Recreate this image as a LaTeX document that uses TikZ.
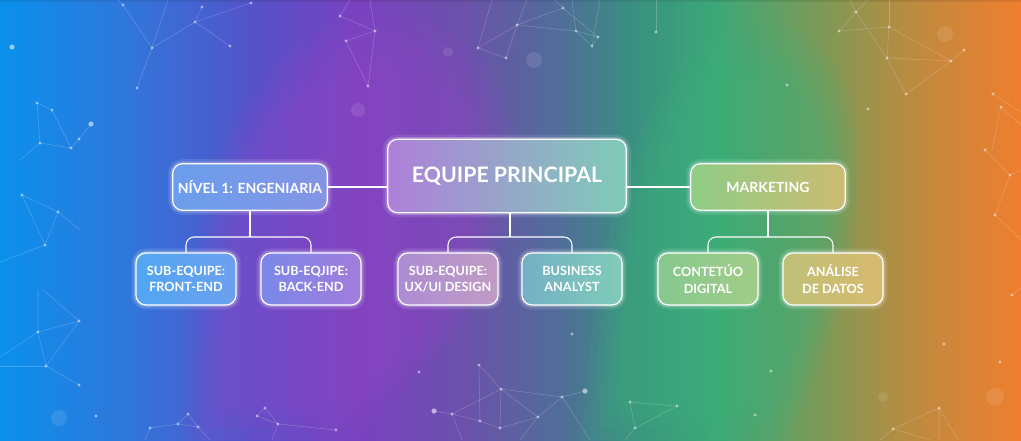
\documentclass[tikz,border=0pt]{standalone}
\usepackage{fontspec}
\setmainfont{Lato}
\usetikzlibrary{calc}

% background colours
\definecolor{bg0}{HTML}{0A90EC}
\definecolor{bg1}{HTML}{2F78DC}
\definecolor{bg2}{HTML}{5552C8}
\definecolor{bg3}{HTML}{7A42C0}
\definecolor{bg4}{HTML}{6C50AC}
\definecolor{bg5}{HTML}{4F6E98}
\definecolor{bg6}{HTML}{3A9080}
\definecolor{bg7}{HTML}{3BA878}
\definecolor{bg8}{HTML}{7A9A58}
\definecolor{bg9}{HTML}{C08A3E}
\definecolor{bg10}{HTML}{F07E2E}
\definecolor{blobpurple}{HTML}{9446C8}
\definecolor{blobgreen}{HTML}{3DB47C}

\pgfdeclarehorizontalshading{backdrop}{100bp}{%
  color(0bp)=(bg0); color(25bp)=(bg0); color(31bp)=(bg1); color(37.5bp)=(bg2);
  color(42.5bp)=(bg3); color(47.5bp)=(bg4); color(52.5bp)=(bg5);
  color(56bp)=(bg6); color(60bp)=(bg7); color(65bp)=(bg8);
  color(70bp)=(bg9); color(75bp)=(bg10); color(100bp)=(bg10)}

% box colours (left / right)
\definecolor{engL}{HTML}{6A9EEC}\definecolor{engR}{HTML}{8494E4}
\definecolor{mainL}{HTML}{AE80DA}\definecolor{mainR}{HTML}{7ECCB8}
\definecolor{mktL}{HTML}{8ECC86}\definecolor{mktR}{HTML}{CCBC72}
\definecolor{feL}{HTML}{52A6F2}\definecolor{feR}{HTML}{6CA0EE}
\definecolor{beL}{HTML}{7A88E8}\definecolor{beR}{HTML}{A27CDC}
\definecolor{uxL}{HTML}{AC8CD2}\definecolor{uxR}{HTML}{C09CC4}
\definecolor{baL}{HTML}{74B0C6}\definecolor{baR}{HTML}{80CCB8}
\definecolor{cdL}{HTML}{86C88E}\definecolor{cdR}{HTML}{A2CC88}
\definecolor{anL}{HTML}{BEC078}\definecolor{anR}{HTML}{D8BA6E}

\tikzset{
  glowbox/.style={rounded corners=7.5pt, align=center, text=white,
    inner sep=0pt, draw=white!92, line width=0.9pt,
    preaction={draw=white, line width=7pt, draw opacity=0.10},
    preaction={draw=white, line width=3.5pt, draw opacity=0.22}},
  topbox/.style={glowbox, minimum width=116pt, minimum height=35pt,
    font=\fontsize{10.5}{12.5}\selectfont\bfseries},
  rootbox/.style={glowbox, minimum width=179pt, minimum height=55pt,
    font=\fontsize{16}{19}\selectfont\bfseries},
  subbox/.style={glowbox, minimum width=75pt, minimum height=39pt,
    font=\fontsize{9.5}{12.5}\selectfont\bfseries},
  conn/.style={draw=white!85, line width=0.8pt, rounded corners=6pt},
  netline/.style={draw=white, draw opacity=0.22, line width=0.4pt},
  netdot/.style={fill=white, fill opacity=0.5},
}

\begin{document}
\begin{tikzpicture}[x=0.75pt, y=-0.75pt]
\useasboundingbox (0,0) rectangle (1021,440);

% --- backdrop -------------------------------------------------------
\shade[shading=backdrop] (0,0) rectangle (1021,440);
% soft-edged colour clouds: the same shape stacked at shrinking sizes
\foreach \s in {1.06,1.0,0.94,0.88,0.82} {
  \fill[blobpurple, opacity=0.11, scale around={\s:(350,250)}]
    (195,440) .. controls (185,230) and (235,45) .. (370,30)
    .. controls (470,22) and (525,110) .. (500,215)
    .. controls (480,310) and (420,380) .. (330,440) -- cycle;
  \fill[blobgreen, opacity=0.11, scale around={\s:(730,250)}]
    (590,440) .. controls (600,250) and (640,85) .. (720,45)
    .. controls (800,10) and (865,80) .. (850,200)
    .. controls (840,320) and (800,400) .. (775,440) -- cycle;
}
\fill[black, opacity=0.08] (0,0) rectangle (1021,2);

% --- network decoration ---------------------------------------------
% top left
\draw[netline] (123,5) -- (152,48) -- (137,88);
\draw[netline] (152,48) -- (195,22) -- (202,7);
\draw[netline] (195,22) -- (230,46);
\draw[netline] (195,22) -- (251,3);
\draw[netline] (152,48) -- (168,0);
\draw[netline] (123,5) -- (118,0);
\draw[netline] (37,103) -- (52,110) -- (71,148) -- (79,139) -- (91,124);
\draw[netline] (37,103) -- (40,143) -- (71,148);
\draw[netline] (40,143) -- (20,160);
% top middle
\draw[netline] (340,16) -- (375,31) -- (346,41) -- (368,86);
\draw[netline] (375,31) -- (368,86);
\draw[netline] (375,31) -- (370,0);
\draw[netline] (340,16) -- (350,0);
\draw[netline] (478,48) -- (517,25) -- (506,58) -- (478,48);
\draw[netline] (478,48) -- (492,0);
\draw[netline] (517,25) -- (527,0);
\draw[netline] (517,25) -- (563,8) -- (598,37);
\draw[netline] (517,25) -- (576,31) -- (598,37) -- (592,46) -- (576,31) -- (572,0);
\draw[netline] (592,46) -- (600,0);
\draw[netline] (563,8) -- (555,0);
\draw[netline] (656,32) -- (656,0);
% top right
\draw[netline] (850,0) -- (856,12) -- (839,31) -- (889,27) -- (887,58) -- (856,12) -- (868,0);
\draw[netline] (889,27) -- (889,0);
\draw[netline] (889,27) -- (951,61) -- (887,58) -- (906,94) -- (951,61) -- (964,50);
\draw[netline] (993,94) -- (1021,112);
\draw[netline] (1001,107) -- (992,150);
\draw[netline] (1001,107) -- (1021,125);
\draw[netline] (985,150) -- (1010,175) -- (995,215) -- (1021,240);
\draw[netline] (1010,175) -- (1021,170);
% left
\draw[netline] (38,290) -- (38,332) -- (79,321) -- (43,290);
\draw[netline] (38,332) -- (46,366) -- (79,321);
\draw[netline] (46,366) -- (79,385);
\draw[netline] (38,332) -- (0,357);
\draw[netline] (46,366) -- (0,366);
\draw[netline] (22,195) -- (58,212) -- (45,245) -- (22,195);
\draw[netline] (58,212) -- (80,230);
\draw[netline] (45,245) -- (0,262);
% bottom left
\draw[netline] (150,428) -- (178,424) -- (188,414) -- (198,427) -- (178,424);
\draw[netline] (150,428) -- (145,440);
\draw[netline] (198,427) -- (210,440);
\draw[netline] (257,416) -- (265,408) -- (278,424) -- (336,430);
\draw[netline] (257,416) -- (278,424) -- (272,440);
% bottom middle
\draw[netline] (479,365) -- (501,389) -- (562,397) -- (538,417) -- (501,389) -- (500,428);
\draw[netline] (501,389) -- (452,414) -- (434,411);
\draw[netline] (452,414) -- (480,421) -- (500,428) -- (538,417);
\draw[netline] (479,365) -- (480,421);
\draw[netline] (452,414) -- (462,440);
\draw[netline] (562,397) -- (590,440);
\draw[netline] (562,397) -- (585,391);
\draw[netline] (538,417) -- (520,440);
\draw[netline] (630,402) -- (677,406) -- (635,428) -- (630,402);
\draw[netline] (635,428) -- (625,440);
% bottom right
\draw[netline] (880,440) -- (893,429) -- (939,408) -- (939,440);
\draw[netline] (939,408) -- (958,440);
\draw[netline] (893,429) -- (930,440);
\draw[netline] (1012,295) -- (1021,288);

\foreach \p in {(123,5),(152,48),(137,88),(195,22),(202,7),(230,46),(251,3),
  (37,103),(52,110),(40,143),(71,148),(79,139),(340,16),(375,31),(346,41),
  (368,86),(478,48),(517,25),(506,58),(563,8),(576,31),(598,37),(592,46),
  (656,32),(856,12),(839,31),(889,27),(887,58),(951,61),(964,50),(906,94),
  (993,94),(1001,107),(985,150),(1010,175),(995,215),(22,195),(58,212),(45,245),
  (38,332),(79,321),(46,366),(79,385),(150,428),(178,424),(188,414),(198,427),
  (257,416),(265,408),(278,424),(336,430),(479,365),(501,389),(562,397),
  (538,417),(500,428),(480,421),(452,414),(419,372),(572,334),(630,402),
  (677,406),(635,428),(944,344),(1000,362),(771,371),(755,415),(893,429),
  (939,408),(1012,295),(787,85),(868,109),(96,416)}
  \fill[netdot] \p circle (1.6);
\foreach \p in {(12,47),(91,124),(434,411),(585,391)}
  \fill[white, fill opacity=0.55] \p circle (2.6);
\foreach \p/\r in {(358,110)/7,(534,60)/8,(945,34)/8,(59,418)/8,(995,397)/9,(883,397)/5,(448,52)/5}
  \fill[white, fill opacity=0.1] \p circle (\r);

% --- chart nodes ----------------------------------------------------
\node[rootbox, left color=mainL, right color=mainR] (main) at (507,176) {EQUIPE PRINCIPAL};
\node[topbox, left color=engL, right color=engR] (eng) at (250,187) {NÍVEL 1: ENGENIARIA};
\node[topbox, left color=mktL, right color=mktR] (mkt) at (768,187) {MARKETING};

\node[subbox, left color=feL, right color=feR] (fe) at (186,279) {SUB-EQUIPE:\\FRONT-END};
\node[subbox, left color=beL, right color=beR] (be) at (311,279) {SUB-EQJIPE:\\BACK-END};
\node[subbox, left color=uxL, right color=uxR] (ux) at (448,279) {SUB-EQUIPE:\\UX/UI DESIGN};
\node[subbox, left color=baL, right color=baR] (ba) at (572,279) {BUSINESS\\ANALYST};
\node[subbox, left color=cdL, right color=cdR] (cd) at (708,279) {CONTETÚO\\DIGITAL};
\node[subbox, left color=anL, right color=anR] (an) at (833,279) {ANÁLISE\\DE DATOS};

% --- connectors -----------------------------------------------------
\coordinate (busE) at (250,237);
\coordinate (busM) at (510,237);
\coordinate (busK) at (768,237);

\draw[conn] (eng.east) -- (eng.east -| main.west);
\draw[conn] (mkt.west -| main.east) -- (mkt.west);

\draw[conn] (eng.south) -- (busE);
\draw[conn] (fe.north) |- (busE) -| (be.north);
\draw[conn] (main.south -| busM) -- (busM);
\draw[conn] (ux.north) |- (busM) -| (ba.north);
\draw[conn] (mkt.south) -- (busK);
\draw[conn] (cd.north) |- (busK) -| (an.north);
\end{tikzpicture}
\end{document}
